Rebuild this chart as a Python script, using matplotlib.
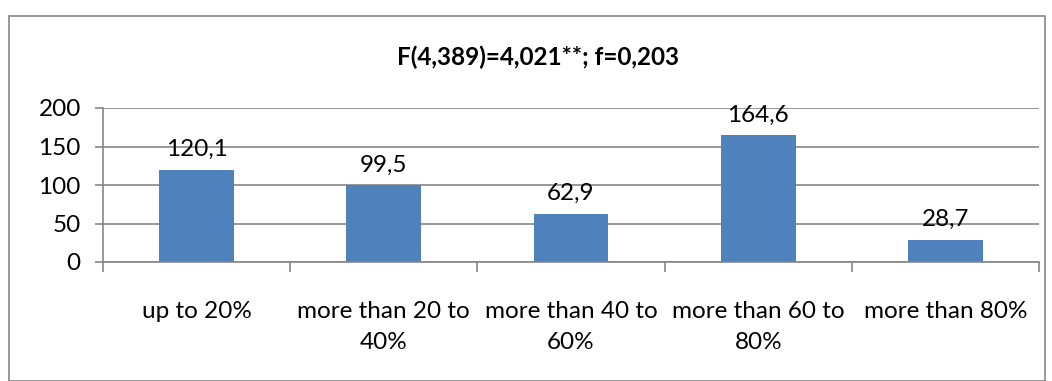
import numpy as np
import matplotlib.pyplot as plt
from matplotlib.patches import Rectangle

categories = ["up to 20%", "more than 20 to\n40%", "more than 40 to\n60%",
              "more than 60 to\n80%", "more than 80%"]
values = [120.1, 99.5, 62.9, 164.6, 28.7]
value_labels = ["120,1", "99,5", "62,9", "164,6", "28,7"]
title = "F(4,389)=4,021**; f=0,203"

plt.rcParams['font.family'] = ['Lato', 'DejaVu Sans']
grey = "#868686"
fs = 17.5

fig = plt.figure(figsize=(10.52, 3.81), dpi=100)
fig.patches.append(Rectangle((9 / 1052, 0.0), 1036 / 1052, 1 - 16 / 381,
                             transform=fig.transFigure, fill=False,
                             edgecolor=grey, linewidth=1.2))
ax = fig.add_axes([103 / 1052, 1 - 262 / 381, (1039 - 103) / 1052, (262 - 108) / 381])

x = np.arange(len(values))
ax.bar(x, values, width=0.4, color="#4F81BD", zorder=2)
for xi, v, lab in zip(x, values, value_labels):
    ax.annotate(lab, (xi, v), xytext=(0, 7), textcoords="offset points",
                ha="center", va="bottom", fontsize=fs)

ax.set_xlim(-0.5, len(values) - 0.5)
ax.set_ylim(0, 200)
ax.set_yticks(np.arange(0, 201, 50))
ax.yaxis.grid(True, color=grey, linewidth=1.2, zorder=0)
ax.set_axisbelow(True)

ax.set_xticks(np.arange(-0.5, len(values)), minor=False)
ax.set_xticklabels([])
ax.set_xticks(x, minor=True)
ax.set_xticklabels(categories, minor=True, fontsize=fs, linespacing=1.6)
ax.tick_params(axis="x", which="minor", length=0, pad=28)
ax.tick_params(axis="x", which="major", length=7, color=grey, width=1.2)
ax.tick_params(axis="y", length=6, color=grey, width=1.2, labelsize=fs, pad=10)

for s in ["top", "right"]:
    ax.spines[s].set_visible(False)
for s in ["left", "bottom"]:
    ax.spines[s].set_color(grey)
    ax.spines[s].set_linewidth(1.2)

fig.text(538 / 1052, 1 - 57 / 381, title, ha="center", va="center",
         fontsize=fs, fontweight="bold")

fig.savefig("out.png", dpi=100)
